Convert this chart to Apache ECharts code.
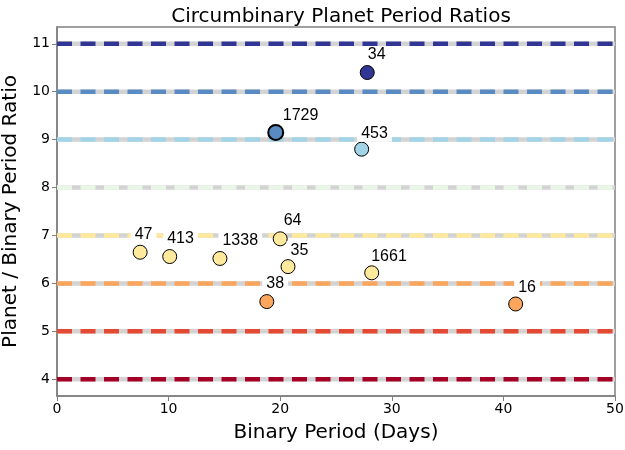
<!DOCTYPE html>
<html>
<head>
<meta charset="utf-8">
<script src="https://cdn.jsdelivr.net/npm/echarts@6/dist/echarts.min.js"></script>
<style>html,body{margin:0;padding:0;background:#fff}#c{width:625px;height:450px}</style>
</head>
<body>
<div id="c"></div>
<script>
// Resonance lines (period ratios) and their colours
const ratioLines = [4, 5, 6, 7, 8, 9, 10, 11];
const lineColors = ['#a50026', '#e34933', '#fca55d', '#fee99d', '#e9f6e8', '#a3d3e6', '#598ac1', '#313695'];
const lineXRange = [0, 50];

// Planets (Kepler numbers)
const planetNames   = ['34', '1729', '453', '47', '413', '1338', '64', '35', '1661', '38', '16'];
const binaryPeriods = [27.8, 19.6, 27.3, 7.45, 10.1, 14.6, 20.0, 20.7, 28.2, 18.8, 41.1];
const periodRatios  = [10.40, 9.15, 8.80, 6.65, 6.56, 6.52, 6.93, 6.35, 6.22, 5.62, 5.57];
const highlighted   = ['1729'];

const xTicks = [0, 10, 20, 30, 40, 50];
const yTicks = [4, 5, 6, 7, 8, 9, 10, 11];

// label offsets (pixels, relative to point centre): [dx, dy of label top]
const labelOffsets = [[1,-23],[8,-22],[0,-21],[-5,-23],[-2,-23],[3,-23],[4,-24],[3,-22],[0,-22],[0,-23],[3,-22]];

const chart = echarts.init(document.getElementById('c'), null, {renderer: 'canvas'});

const series = [];
ratioLines.forEach((r, i) => {
  const data = [[lineXRange[0], r], [lineXRange[1], r]];
  series.push({
    type: 'line', data, symbol: 'none', silent: true, z: 1,
    lineStyle: {color: '#d3d3d3', width: 4.5, type: 'solid', cap: 'butt'}
  });
  series.push({
    type: 'line', data, symbol: 'none', silent: true, z: 2,
    lineStyle: {color: lineColors[i], width: 4.5, type: [15, 8.5], cap: 'butt'}
  });
});

const pts = planetNames.map((n, i) => {
  const col = lineColors[ratioLines.indexOf(Math.ceil(periodRatios[i]))];
  const hl = highlighted.includes(n);
  const size = hl ? 15 : 14;
  const off = labelOffsets[i];
  return {
    name: n,
    value: [binaryPeriods[i], periodRatios[i]],
    symbolSize: size,
    itemStyle: {color: col, borderColor: '#000', borderWidth: hl ? 2 : 1, opacity: 1},
    label: {position: [size / 2 + off[0] - 4, size / 2 + off[1] - 3]}
  };
});

series.push({
  type: 'scatter', data: pts, z: 5,
  itemStyle: {opacity: 1},
  label: {
    show: true, formatter: p => p.name,
    align: 'left', verticalAlign: 'top',
    fontFamily: 'Liberation Sans', fontSize: 16, color: '#000',
    backgroundColor: '#fff', padding: [1, 4, 0, 4]
  }
});

const axisColor = '#808080';
chart.setOption({
  animation: false,
  backgroundColor: '#fff',
  title: {
    text: 'Circumbinary Planet Period Ratios', left: 336, textAlign: 'center', top: 2,
    textStyle: {fontFamily: 'DejaVu Sans', fontSize: 20, fontWeight: 'normal', color: '#000'}
  },
  grid: {left: 57, right: 10, top: 27, bottom: 54, outerBoundsMode: 'none', containLabel: false,
         show: true, borderColor: axisColor, borderWidth: 1.5},
  xAxis: {
    type: 'value', min: 0, max: 50, interval: 10,
    name: 'Binary Period (Days)', nameLocation: 'middle', nameGap: 27,
    nameTextStyle: {fontFamily: 'DejaVu Sans', fontSize: 20, color: '#000'},
    axisLine: {show: true, lineStyle: {color: axisColor, width: 1.5}},
    axisTick: {show: true, length: 5, lineStyle: {color: axisColor}},
    axisLabel: {fontFamily: 'DejaVu Sans', fontSize: 14, color: '#000', margin: 6},
    splitLine: {show: false}
  },
  yAxis: {
    type: 'value', min: 3.65, max: 11.35,
    name: 'Planet / Binary Period Ratio', nameLocation: 'middle', nameGap: 32,
    nameTextStyle: {fontFamily: 'DejaVu Sans', fontSize: 20, color: '#000'},
    axisLine: {show: true, lineStyle: {color: axisColor, width: 1.5}},
    axisTick: {show: true, length: 5, lineStyle: {color: axisColor}, customValues: yTicks},
    axisLabel: {fontFamily: 'DejaVu Sans', fontSize: 14, color: '#000', margin: 7, customValues: yTicks},
    splitLine: {show: false}
  },
  series
});
</script>
</body>
</html>
